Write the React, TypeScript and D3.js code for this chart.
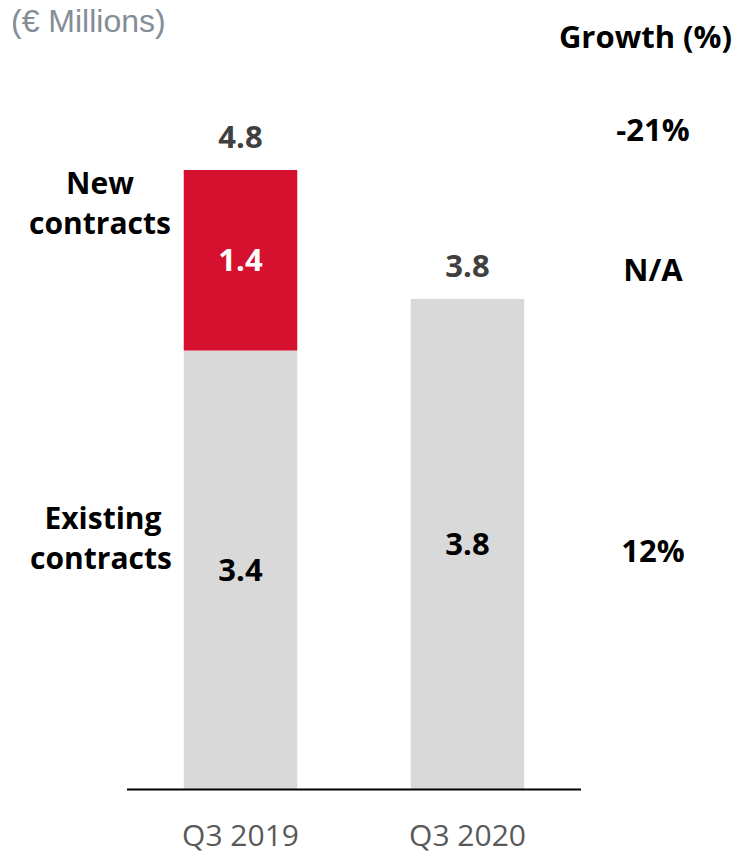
import {scaleBand, scaleLinear} from "d3";

const periods = ["Q3 2019", "Q3 2020"];
const existingContracts = [3.4, 3.8];
const newContracts = [1.4, 0];
const totals = [4.8, 3.8];
const growthLabels = ["-21%", "N/A", "12%"];

const RED = "#d6102f";
const GREY = "#d9d9d9";
const BOLD = "'Open Sans', 'Noto Sans', sans-serif";

export default function App() {
    const width = 740;
    const height = 856;
    const baseline = 789;

    const xScale = scaleBand<string>()
        .domain(periods)
        .range([127, 581])
        .paddingInner(0.5)
        .paddingOuter(0.25);
    const yScale = scaleLinear()
        .domain([0, 4.8])
        .range([baseline, 170]);

    const bw = xScale.bandwidth();
    const cx = (p: string) => (xScale(p) ?? 0) + bw / 2;

    // stacked segments: existing at bottom, new on top
    const segments = periods.flatMap((p, i) => {
        const out = [{
            key: `${p}-existing`,
            x: xScale(p) ?? 0,
            y0: 0,
            y1: existingContracts[i],
            color: GREY,
            label: existingContracts[i].toFixed(1),
            labelColor: "#000000"
        }];
        if (newContracts[i] > 0) {
            out.push({
                key: `${p}-new`,
                x: xScale(p) ?? 0,
                y0: existingContracts[i],
                y1: existingContracts[i] + newContracts[i],
                color: RED,
                label: newContracts[i].toFixed(1),
                labelColor: "#ffffff"
            });
        }
        return out;
    });

    // growth column rows line up with the segment labels
    const growthY = [141, 281, 562];

    return <svg width={width} height={height} style={{position: "absolute", left: 0, top: 0}}>
        <rect width={width} height={height} fill="#ffffff"/>
        <text x={11} y={32} fontFamily="'Liberation Sans', Arial, sans-serif" fontSize={32}
              fill="#858d97">(€ Millions)</text>
        <text x={732} y={48} textAnchor="end" fontFamily={BOLD} fontWeight={700} fontSize={31}
              fill="#000000">Growth (%)</text>

        {segments.map(s => (
            <rect key={s.key} x={s.x} y={yScale(s.y1)} width={bw}
                  height={yScale(s.y0) - yScale(s.y1)} fill={s.color}/>
        ))}
        {segments.map(s => (
            <text key={s.key + "-label"} x={s.x + bw / 2}
                  y={(yScale(s.y0) + yScale(s.y1)) / 2} dy="0.36em" textAnchor="middle"
                  fontFamily={BOLD} fontWeight={700} fontSize={31} fill={s.labelColor}>{s.label}</text>
        ))}
        {periods.map((p, i) => (
            <text key={p + "-total"} x={cx(p)} y={yScale(totals[i]) - 22} textAnchor="middle"
                  fontFamily={BOLD} fontWeight={700} fontSize={31} fill="#404040">{totals[i].toFixed(1)}</text>
        ))}

        <line x1={127} x2={581} y1={baseline + 0.5} y2={baseline + 0.5} stroke="#000000" strokeWidth={2}/>

        {periods.map(p => (
            <text key={p + "-tick"} x={cx(p)} y={846} textAnchor="middle"
                  fontFamily={BOLD} fontSize={30} fill="#595959">{p}</text>
        ))}

        <text x={100} y={194} textAnchor="middle" fontFamily={BOLD} fontWeight={700} fontSize={30}>New</text>
        <text x={100} y={234} textAnchor="middle" fontFamily={BOLD} fontWeight={700} fontSize={30}>contracts</text>
        <text x={103} y={529} textAnchor="middle" fontFamily={BOLD} fontWeight={700} fontSize={30}>Existing</text>
        <text x={101} y={569} textAnchor="middle" fontFamily={BOLD} fontWeight={700} fontSize={30}>contracts</text>

        {growthLabels.map((g, i) => (
            <text key={g} x={653} y={growthY[i]} textAnchor="middle" fontFamily={BOLD}
                  fontWeight={700} fontSize={31} fill="#000000">{g}</text>
        ))}
    </svg>;
}
